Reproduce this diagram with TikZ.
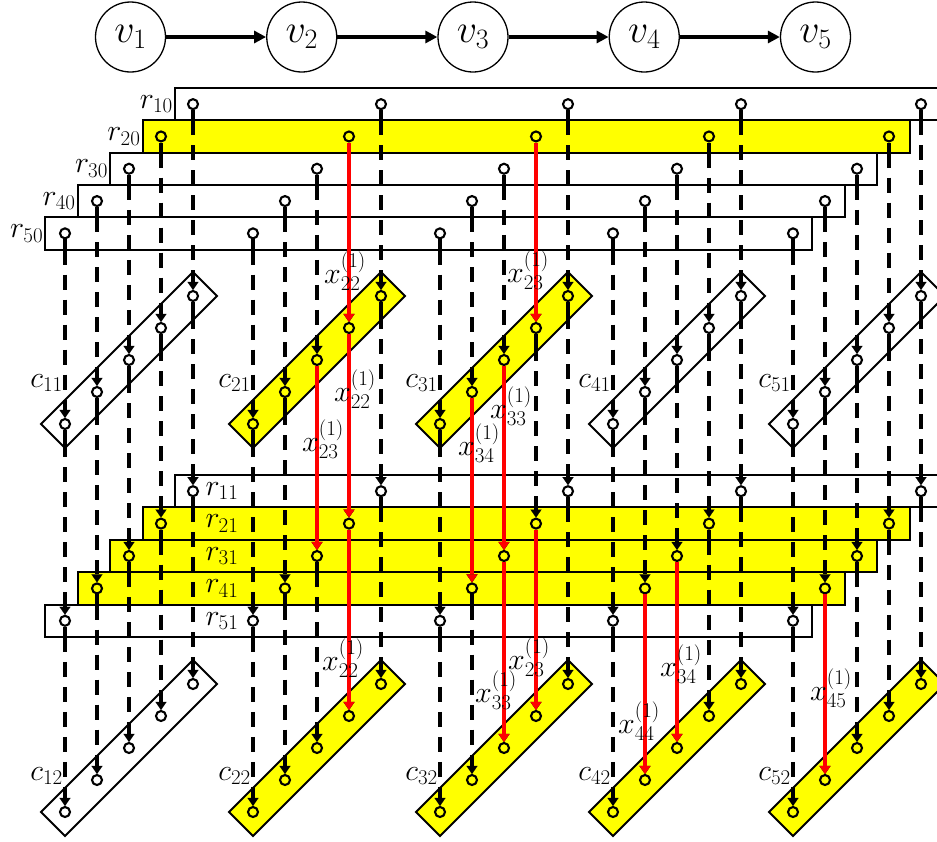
\RequirePackage{fix-cm}
\documentclass[tikz,border=0pt]{standalone}
\usepackage{amsmath}
\usetikzlibrary{arrows.meta}
\definecolor{HLyellow}{RGB}{255,255,0}
\definecolor{HLred}{RGB}{255,0,0}
\tikzset{every node/.style={font=\fontsize{30}{34}\selectfont}}

\begin{document}
\begin{tikzpicture}[
    x=1pt, y=-1pt,
    vnode/.style={
        circle,
        draw,
        line width=1.3pt,
        minimum size=70pt,
        inner sep=0pt,
        font=\fontsize{40}{44}\selectfont
    },
    vedge/.style={
        -{Triangle[width=12pt, length=12pt]},
        line width=3.5pt
    },
    rowbox/.style={
        draw,
        line width=2pt,
        anchor=north west,
        minimum width=767pt,
        minimum height=32.3pt,
        inner sep=0pt,
        outer sep=0pt
    },
    colbox/.style={
        draw,
        line width=2pt,
        rotate=45,
        minimum width=215pt,
        minimum height=34pt,
        inner sep=0pt,
        outer sep=0pt
    },
    port/.style={
        circle,
        draw,
        line width=2.1pt,
        minimum size=10pt,
        inner sep=0pt
    },
    stem/.style={
        line width=3.5pt
    },
    wire/.style={
        -{Triangle[width=11pt, length=8pt, line width=0.1pt]},
        line width=3.5pt,
        dash pattern=on 15pt off 10pt
    },
    flow/.style={
        -{Triangle[width=11pt, length=8pt, line width=0.1pt]},
        line width=3.6pt,
        color=HLred
    },
    lab/.style={
        inner sep=2pt
    }
]
\useasboundingbox (0,0) rectangle (937,841);
\clip (0,0) rectangle (937,841);

% chain of v nodes
\foreach \j in {1,...,5}
    \node[vnode] (v\j) at ({130.5+171.25*(\j-1)},37) {$v_{\j}$};
\foreach \a/\b in {1/2,2/3,3/4,4/5}
    \draw[vedge] (v\a) -- (v\b);

% row blocks
\foreach \i/\fc in {1/white,2/HLyellow,3/white,4/white,5/white} {
    \node[rowbox, fill=\fc] (r\i0) at ({175-32.4*(\i-1)},{88+32.3*(\i-1)}) {};
    \node[lab, anchor=east] (r\i0-lab) at (r\i0.west) {$r_{\i0}$};
}
\foreach \i/\fc in {1/white,2/HLyellow,3/HLyellow,4/HLyellow,5/white} {
    \node[rowbox, fill=\fc] (r\i1) at ({175-32.4*(\i-1)},{475+32.4*(\i-1)}) {};
    \node[lab] (r\i1-lab) at (222,{491.2+32.4*(\i-1)}) {$r_{\i1}$};
}

% column blocks
\foreach \k/\gx/\fa/\fb in {1/65/white/white, 2/253/HLyellow/HLyellow, 3/440/HLyellow/HLyellow, 4/613/white/HLyellow, 5/793/white/HLyellow} {
    \node[colbox, fill=\fa] (c\k1) at ({\gx+64},360) {};
    \node[lab, anchor=east] (c\k1-lab) at ({\gx},383) {$c_{\k1}$};
    \node[colbox, fill=\fb] (c\k2) at ({\gx+64},748) {};
    \node[lab, anchor=east] (c\k2-lab) at ({\gx},776) {$c_{\k2}$};
}

% ports and stems
\foreach \k/\gx in {1/65,2/253,3/440,4/613,5/793} {
    \foreach \m in {1,...,5} {
        \node[port] (a\k\m) at ({\gx+32*(\m-1)},{424-32*(\m-1)}) {};
        \coordinate (af\k\m) at ({\gx+32*(\m-1)},{442-32*(\m-1)});
        \draw[stem] (a\k\m.south) -- (af\k\m);
        \node[port] (d\k\m) at ({\gx+32*(\m-1)},{812-32*(\m-1)}) {};
    }
    \foreach \i in {1,...,5} {
        \node[port] (t\i\k) at ({\gx+32*(5-\i)},{104.15+32.3*(\i-1)}) {};
        \draw[stem] (t\i\k.south) -- (t\i\k |- r\i0.south) coordinate (tf\i\k);
        \node[port] (b\i\k) at ({\gx+32*(5-\i)},{491.2+32.4*(\i-1)}) {};
        \draw[stem] (b\i\k.south) -- (b\i\k |- r\i1.south) coordinate (bf\i\k);
    }
}

% dashed wires
\foreach \k in {1,...,5} {
    \foreach \i [evaluate=\i as \m using int(6-\i)] in {1,...,5} {
        \draw[wire] (tf\i\k) -- (a\k\m.north);
        \draw[wire] (af\k\m) -- (b\i\k.north);
        \draw[wire] (bf\i\k) -- (d\k\m.north);
    }
}

% highlighted messages
\draw[flow] (t22.south) -- (a24.north);
\draw[flow] (t23.south) -- (a34.north);
\draw[flow] (a24.south) -- (b22.north);
\draw[flow] (a23.south) -- (b32.north);
\draw[flow] (a33.south) -- (b33.north);
\draw[flow] (a32.south) -- (b43.north);
\draw[flow] (b22.south) -- (d24.north);
\draw[flow] (b23.south) -- (d34.north);
\draw[flow] (b33.south) -- (d33.north);
\draw[flow] (b44.south) -- (d42.north);
\draw[flow] (b34.south) -- (d43.north);
\draw[flow] (b45.south) -- (d52.north);

\node[lab] (xa1) at (345,271) {$x^{(1)}_{22}$};
\node[lab] (xa2) at (528,270) {$x^{(1)}_{23}$};
\node[lab] (xb1) at (355,389) {$x^{(1)}_{22}$};
\node[lab] (xb2) at (323,439) {$x^{(1)}_{23}$};
\node[lab] (xb3) at (511,406) {$x^{(1)}_{33}$};
\node[lab] (xb4) at (479,443) {$x^{(1)}_{34}$};
\node[lab] (xc1) at (343,658) {$x^{(1)}_{22}$};
\node[lab] (xc2) at (529,657) {$x^{(1)}_{23}$};
\node[lab] (xc3) at (496,690) {$x^{(1)}_{33}$};
\node[lab] (xc4) at (639,721) {$x^{(1)}_{44}$};
\node[lab] (xc5) at (681,664) {$x^{(1)}_{34}$};
\node[lab] (xc6) at (831,688) {$x^{(1)}_{45}$};

\end{tikzpicture}
\end{document}
